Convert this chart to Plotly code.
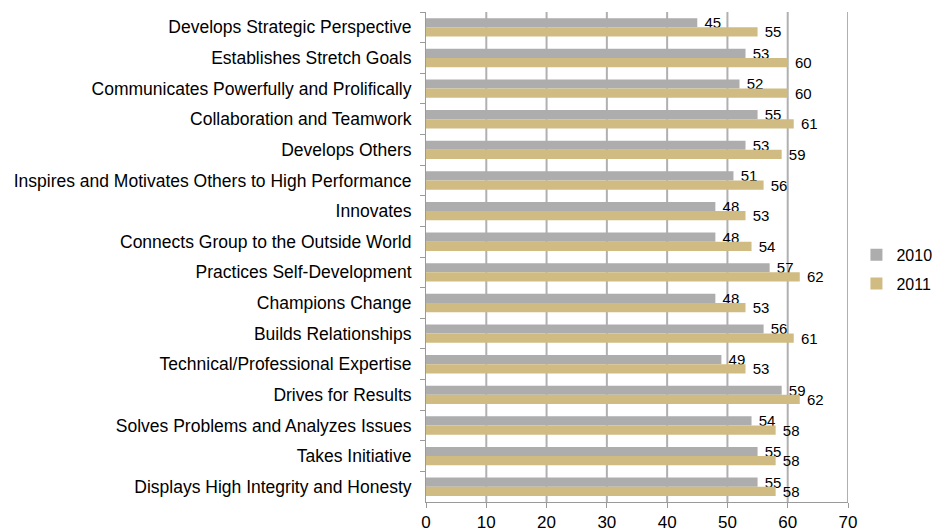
import plotly.graph_objects as go

categories = [
    "Develops Strategic Perspective",
    "Establishes Stretch Goals",
    "Communicates Powerfully and Prolifically",
    "Collaboration and Teamwork",
    "Develops Others",
    "Inspires and Motivates Others to High Performance",
    "Innovates",
    "Connects Group to the Outside World",
    "Practices Self-Development",
    "Champions Change",
    "Builds Relationships",
    "Technical/Professional Expertise",
    "Drives for Results",
    "Solves Problems and Analyzes Issues",
    "Takes Initiative",
    "Displays High Integrity and Honesty",
]
values_2010 = [45, 53, 52, 55, 53, 51, 48, 48, 57, 48, 56, 49, 59, 54, 55, 55]
values_2011 = [55, 60, 60, 61, 59, 56, 53, 54, 62, 53, 61, 53, 62, 58, 58, 58]
x_ticks = [0, 10, 20, 30, 40, 50, 60, 70]

font_family = "Liberation Sans, Arial, sans-serif"

fig = go.Figure()
fig.add_trace(go.Bar(
    name="2010", y=categories, x=values_2010, orientation="h",
    legendgroup="a",
    marker=dict(color="#ADADAD", line=dict(width=0)),
    texttemplate="\u00a0%{x}", textposition="outside", cliponaxis=False,
    constraintext="none",
    textfont=dict(size=15, color="#000000", family=font_family),
))
fig.add_trace(go.Bar(
    name="2011", y=categories, x=values_2011, orientation="h",
    legendgroup="b",
    marker=dict(color="#D0BC82", line=dict(width=0)),
    texttemplate="\u00a0%{x}", textposition="outside", cliponaxis=False,
    constraintext="none",
    textfont=dict(size=15, color="#000000", family=font_family),
))

# vertical gridlines at the x tick positions (styling only)
for t in x_ticks[1:]:
    fig.add_shape(
        type="line", xref="x", yref="paper", x0=t, x1=t, y0=0, y1=1,
        line=dict(color="#B0B0B0", width=2), layer="below",
    )

fig.update_layout(
    template="none",
    width=946, height=531,
    barmode="group", bargap=0.4, bargroupgap=0,
    plot_bgcolor="rgba(0,0,0,0)", paper_bgcolor="white",
    margin=dict(l=426, r=98, t=12, b=29, autoexpand=False),
    font=dict(family=font_family, size=16, color="#000000"),
    legend=dict(
        x=1.02, y=0.475, xanchor="left", yanchor="middle",
        font=dict(size=16), itemwidth=30, tracegroupgap=5,
        traceorder="grouped",
        bgcolor="rgba(0,0,0,0)",
    ),
    xaxis=dict(
        range=[0, 70], tickmode="array", tickvals=x_ticks,
        ticktext=[str(t) for t in x_ticks],
        showgrid=False,
        showline=True, linecolor="#9A9A9A", linewidth=1,
        ticks="outside", ticklen=5, tickcolor="#9A9A9A",
        tickfont=dict(size=17), zeroline=False, mirror=False,
    ),
    yaxis=dict(
        autorange="reversed", type="category",
        showline=True, linecolor="#9A9A9A", linewidth=1,
        ticks="outside", ticklen=5, tickcolor="#9A9A9A",
        tickson="boundaries", showgrid=False, zeroline=False,
        tickfont=dict(size=17.5), ticklabelstandoff=10,
    ),
)

fig.write_html(
    "out.html",
    config={"displayModeBar": False},
    post_script="document.body.style.margin='0';document.body.style.overflow='hidden';",
)
